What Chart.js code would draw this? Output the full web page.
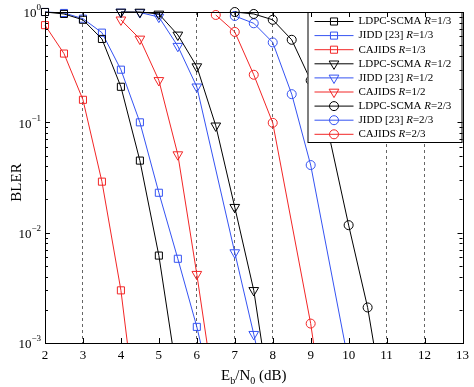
<!DOCTYPE html>
<html>
<head>
<meta charset="utf-8">
<script src="https://cdn.jsdelivr.net/npm/chart.js@4/dist/chart.umd.min.js"></script>
<style>
body { margin: 0; background: #fff; }
</style>
</head>
<body>
<canvas id="blerChart" width="474" height="387"></canvas>
<script>
// Eb/N0 (dB) points and BLER
const ldpcR13X = [2, 2.5, 3, 3.5, 4, 4.5, 5, 5.5];
const ldpcR13 = [1.0, 0.96, 0.85, 0.57, 0.21, 0.045, 0.0062, 0.00046];
const jiddR13X = [2, 2.5, 3, 3.5, 4, 4.5, 5, 5.5, 6, 6.5];
const jiddR13 = [1.0, 0.98, 0.87, 0.65, 0.30, 0.10, 0.023, 0.0058, 0.0014, 0.00026];
const cajidsR13X = [2, 2.5, 3, 3.5, 4, 4.5];
const cajidsR13 = [0.76, 0.42, 0.16, 0.029, 0.0030, 0.00012];

const ldpcR12X = [4, 4.5, 5, 5.5, 6, 6.5, 7, 7.5, 8];
const ldpcR12 = [1.0, 1.0, 0.96, 0.62, 0.32, 0.093, 0.017, 0.0030, 0.00022];
const jiddR12X = [4, 4.5, 5, 5.5, 6, 7, 7.5, 8];
const jiddR12 = [1.0, 0.99, 0.90, 0.49, 0.21, 0.0066, 0.0012, 0.00021];
const cajidsR12X = [4, 4.5, 5, 5.5, 6, 6.5];
const cajidsR12 = [0.85, 0.57, 0.24, 0.051, 0.0042, 0.00029];

const ldpcR23X = [7, 7.5, 8, 8.5, 9, 9.5, 10, 10.5, 11];
const ldpcR23 = [1.0, 0.96, 0.85, 0.56, 0.24, 0.072, 0.0117, 0.0021, 0.0002];
const jiddR23X = [7, 7.5, 8, 8.5, 9, 10];
const jiddR23 = [0.92, 0.79, 0.53, 0.18, 0.041, 0.00066];
const cajidsR23X = [6.5, 7, 7.5, 8, 9, 9.5];
const cajidsR23 = [0.94, 0.66, 0.27, 0.099, 0.0015, 0.0001];

const xTicks = [2, 3, 4, 5, 6, 7, 8, 9, 10, 11, 12, 13];
const yDecades = [1, 0.1, 0.01, 0.001];
const names = ["LDPC-SCMA", "JIDD [23]", "CAJIDS"];
const rates = ["1/3", "1/2", "2/3"];

const colors = ["#000000", "#3553f2", "#f22626"];
const markers = ["rect", "triangle", "circle"];
const radii = [5, 5.6, 4.5];
const dashedAt = [3, 6, 7, 8, 11, 12];
const serif = "'Liberation Serif', 'DejaVu Serif', serif";

const series = [
    [ldpcR13X, ldpcR13], [jiddR13X, jiddR13], [cajidsR13X, cajidsR13],
    [ldpcR12X, ldpcR12], [jiddR12X, jiddR12], [cajidsR12X, cajidsR12],
    [ldpcR23X, ldpcR23], [jiddR23X, jiddR23], [cajidsR23X, cajidsR23]
];

const datasets = series.map((s, i) => {
    const scheme = i % 3;
    const rate = Math.floor(i / 3);
    return {
        label: names[scheme] + " R=" + rates[rate],
        name: names[scheme],
        rate: rates[rate],
        data: s[0].map((x, k) => ({ x: x, y: s[1][k] })),
        borderColor: colors[scheme],
        borderWidth: 1,
        pointStyle: markers[rate],
        pointRotation: rate === 1 ? 180 : 0,
        pointRadius: radii[rate],
        pointBorderWidth: 1,
        pointBorderColor: colors[scheme],
        pointBackgroundColor: "rgba(0,0,0,0)",
        clip: { left: 7, top: 8, right: 0, bottom: 0 },
        tension: 0
    };
});

// legend box inside the plot, top right, with italic R
const boxLegend = {
    id: "boxLegend",
    afterDatasetsDraw(chart) {
        const ctx = chart.ctx;
        const a = chart.chartArea;
        const w = 155, h = 131;
        const left = a.right - w, top = a.top;
        ctx.save();
        ctx.fillStyle = "#fff";
        ctx.fillRect(left, top, w, h);
        ctx.strokeStyle = "#000";
        ctx.lineWidth = 1;
        ctx.strokeRect(left + 0.5, top + 0.5, w - 1, h - 1);
        chart.data.datasets.forEach((ds, i) => {
            const y = top + 9.5 + i * 14.1;
            ctx.strokeStyle = ds.borderColor;
            ctx.beginPath();
            ctx.moveTo(left + 7, y);
            ctx.lineTo(left + 46, y);
            ctx.stroke();
            ctx.fillStyle = "rgba(0,0,0,0)";
            Chart.helpers.drawPoint(ctx, {
                pointStyle: ds.pointStyle,
                rotation: ds.pointRotation,
                radius: ds.pointRadius,
                borderWidth: 1
            }, left + 26.5, y);
            ctx.fillStyle = "#000";
            ctx.textBaseline = "middle";
            let tx = left + 51;
            ctx.font = "11px " + serif;
            ctx.fillText(ds.name + " ", tx, y);
            tx += ctx.measureText(ds.name + " ").width;
            ctx.font = "italic 11px " + serif;
            ctx.fillText("R", tx, y);
            tx += ctx.measureText("R").width;
            ctx.font = "11px " + serif;
            ctx.fillText("=" + ds.rate, tx, y);
        });
        ctx.restore();
    }
};

// box, inward ticks, y decade labels and axis titles
const frame = {
    id: "frame",
    afterDraw(chart) {
        const ctx = chart.ctx;
        const a = chart.chartArea;
        const x = chart.scales.x, y = chart.scales.y;
        ctx.save();
        ctx.strokeStyle = "#000";
        ctx.lineWidth = 1;
        ctx.strokeRect(Math.round(a.left) + 0.5, Math.round(a.top) + 0.5,
            Math.round(a.right - a.left), Math.round(a.bottom - a.top));

        ctx.beginPath();
        xTicks.forEach(v => {
            const px = Math.round(x.getPixelForValue(v)) + 0.5;
            ctx.moveTo(px, a.bottom); ctx.lineTo(px, a.bottom - 5);
            ctx.moveTo(px, a.top); ctx.lineTo(px, a.top + 5);
        });
        for (let e = -3; e < 0; e++) {
            for (let m = 1; m < 10; m++) {
                const py = Math.round(y.getPixelForValue(m * Math.pow(10, e))) + 0.5;
                const len = m === 1 ? 5 : 3;
                ctx.moveTo(a.left, py); ctx.lineTo(a.left + len, py);
                ctx.moveTo(a.right, py); ctx.lineTo(a.right - len, py);
            }
        }
        ctx.stroke();

        ctx.fillStyle = "#000";
        ctx.textBaseline = "middle";
        yDecades.forEach(v => {
            const py = y.getPixelForValue(v);
            const exp = String(Math.round(Math.log10(v))).replace("-", "\u2212");
            ctx.font = "9px " + serif;
            const ew = ctx.measureText(exp).width;
            ctx.textAlign = "right";
            ctx.fillText(exp, a.left - 4, py - 4);
            ctx.font = "13px " + serif;
            ctx.fillText("10", a.left - 4 - ew, py + 2);
        });

        // x title: Eb/N0 (dB)
        ctx.textAlign = "left";
        ctx.textBaseline = "alphabetic";
        const parts = [["E", 0, 15], ["b", 4, 10], ["/N", 0, 15], ["0", 4, 10], [" (dB)", 0, 15]];
        let total = 0;
        parts.forEach(p => { ctx.font = p[2] + "px " + serif; total += ctx.measureText(p[0]).width; });
        let tx = (a.left + a.right) / 2 - total / 2;
        parts.forEach(p => {
            ctx.font = p[2] + "px " + serif;
            ctx.fillText(p[0], tx, 380 + p[1]);
            tx += ctx.measureText(p[0]).width;
        });

        // y title
        ctx.translate(17, (a.top + a.bottom) / 2 + 5);
        ctx.rotate(-Math.PI / 2);
        ctx.textAlign = "center";
        ctx.textBaseline = "middle";
        ctx.font = "15px " + serif;
        ctx.fillText("BLER", 0, 0);
        ctx.restore();
    }
};

new Chart(document.getElementById("blerChart"), {
    type: "line",
    data: { datasets: datasets },
    plugins: [boxLegend, frame],
    options: {
        responsive: false,
        animation: false,
        devicePixelRatio: 1,
        layout: { padding: { top: 12, right: 8, left: 0, bottom: 0 } },
        plugins: { legend: { display: false }, tooltip: { enabled: false } },
        scales: {
            x: {
                type: "linear",
                min: 2,
                max: 13,
                afterFit: s => { s.height = 44; },
                afterBuildTicks: s => { s.ticks = xTicks.map(v => ({ value: v })); },
                ticks: { color: "#000", font: { family: serif, size: 13 }, padding: 5, maxRotation: 0 },
                grid: {
                    drawTicks: false,
                    color: c => dashedAt.includes(c.tick.value) ? "#666" : "rgba(0,0,0,0)",
                    lineWidth: 1
                },
                border: { display: false, dash: [3, 3] }
            },
            y: {
                type: "logarithmic",
                min: 0.001,
                max: 1,
                afterFit: s => { s.width = 45; },
                ticks: { display: false },
                grid: { display: false, drawTicks: false },
                border: { display: false }
            }
        }
    }
});
</script>
</body>
</html>
